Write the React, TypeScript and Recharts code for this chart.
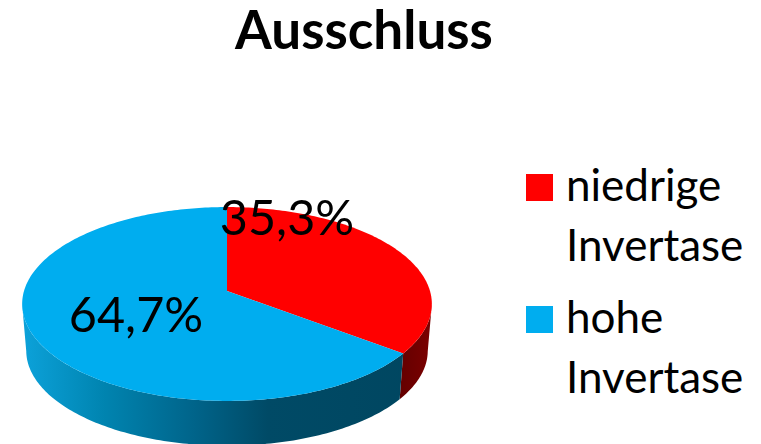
import { Legend, Pie, PieChart } from "recharts";

const categories = ["niedrige Invertase", "hohe Invertase"];
const shares = [35.3, 64.7];
const topColors = ["#ff0000", "#00adef"];
const wallFills = ["url(#wallRed)", "url(#wallBlue)"];

const data = categories.map((name, i) => ({
  name,
  value: shares[i],
  fill: topColors[i],
  wall: wallFills[i],
}));

// tilted disc: homography so the apex sits above the ellipse centre
const TILT = 0.134;
const SQUASH = 0.469;
const WALL_DROP = 47;
const WALL_SCALE = 0.98;
const RAD = Math.PI / 180;

const project = (cx: number, cy: number, r: number, deg: number, scale = 1, drop = 0) => {
  const u = Math.cos(deg * RAD);
  const v = Math.sin(deg * RAD);
  const w = 1 + TILT * v;
  return [cx + (r * scale * u) / w, cy + drop - (r * SQUASH * scale * v) / w];
};

const arc = (cx: number, cy: number, r: number, from: number, to: number, scale = 1, drop = 0) => {
  const steps = Math.max(2, Math.ceil(Math.abs(from - to)));
  const pts: string[] = [];
  for (let i = 0; i <= steps; i++) {
    const [x, y] = project(cx, cy, r, from + ((to - from) * i) / steps, scale, drop);
    pts.push(`${x.toFixed(2)} ${y.toFixed(2)}`);
  }
  return pts;
};

const DiscSlice = (props: any) => {
  const { cx, cy, outerRadius, startAngle, endAngle, fill, payload } = props;
  // only the front of the rim shows
  const wallFrom = Math.min(startAngle, -8);
  const wallTo = Math.max(endAngle, -172);
  const top = arc(cx, cy, outerRadius, wallFrom, wallTo);
  const bottom = arc(cx, cy, outerRadius, wallTo, wallFrom, WALL_SCALE, WALL_DROP);
  const face = arc(cx, cy, outerRadius, startAngle, endAngle);
  return (
    <g>
      <path d={`M${[...top, ...bottom].join("L")}Z`} fill={payload?.wall ?? props.wall} />
      <path d={`M${cx} ${cy}L${face.join("L")}Z`} fill={fill} />
    </g>
  );
};

const labelSpots = [
  { x: 287, y: 235 },
  { x: 136, y: 332 },
];

const renderLabel = (props: any) => {
  const spot = labelSpots[props.index];
  return (
    <text x={spot.x} y={spot.y} textAnchor="middle" fontFamily="Lato" fontSize={48.5} fill="#000">
      {`${Number(props.value).toFixed(1).replace(".", ",")}%`}
    </text>
  );
};

const LegendBlock = ({ payload }: any) => (
  <div style={{ fontFamily: "Lato", fontSize: 44, lineHeight: "60px", color: "#000" }}>
    {(payload ?? []).map((entry: any) => {
      const [first, second] = String(entry.value).split(" ");
      return (
        <div key={entry.value} style={{ position: "relative", paddingLeft: 40, marginBottom: 12 }}>
          <span
            style={{
              position: "absolute",
              left: 0,
              top: 20,
              width: 27,
              height: 27,
              background: entry.payload?.fill ?? entry.color,
            }}
          />
          <div>{first}</div>
          <div>{second}</div>
        </div>
      );
    })}
  </div>
);

export default function App() {
  return (
    <div style={{ position: "absolute", left: 0, top: 0, width: 761, height: 444, overflow: "hidden" }}>
      <PieChart width={761} height={444} margin={{ top: 0, right: 0, bottom: 0, left: 0 }}>
        <defs>
          <linearGradient id="wallBlue" gradientUnits="userSpaceOnUse" x1={22} x2={432} y1={0} y2={0}>
            <stop offset="0" stopColor="#0ca2da" />
            <stop offset="0.2" stopColor="#0084b0" />
            <stop offset="0.42" stopColor="#00648a" />
            <stop offset="0.6" stopColor="#004a66" />
            <stop offset="1" stopColor="#004660" />
          </linearGradient>
          <linearGradient id="wallRed" gradientUnits="userSpaceOnUse" x1={400} x2={432} y1={0} y2={0}>
            <stop offset="0" stopColor="#640000" />
            <stop offset="1" stopColor="#7c0000" />
          </linearGradient>
        </defs>
        <text x={364} y={49} textAnchor="middle" fontFamily="Lato" fontWeight={700} fontSize={53} fill="#000">
          Ausschluss
        </text>
        <Pie
          data={data}
          dataKey="value"
          nameKey="name"
          cx={227}
          cy={291}
          outerRadius={203}
          startAngle={90}
          endAngle={-270}
          stroke="none"
          shape={DiscSlice}
          label={renderLabel}
          labelLine={false}
          isAnimationActive={false}
        />
        <Legend
          content={<LegendBlock />}
          layout="vertical"
          itemSorter={null}
          wrapperStyle={{ position: "absolute", left: 526, top: 154, width: 235, bottom: "auto" }}
        />
      </PieChart>
    </div>
  );
}
